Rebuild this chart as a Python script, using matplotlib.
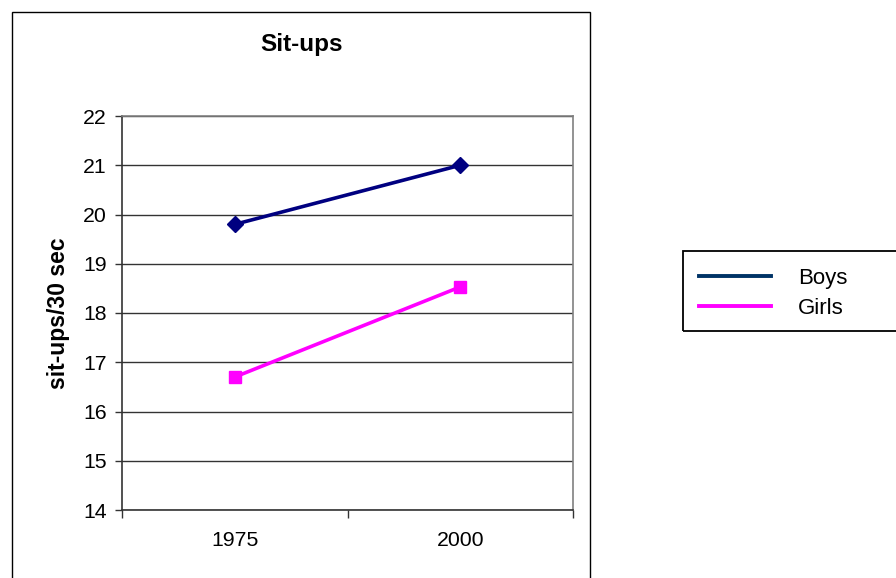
import matplotlib
matplotlib.use("Agg")
import matplotlib.pyplot as plt
from matplotlib.patches import Rectangle
from matplotlib.lines import Line2D

plt.rcParams['font.family'] = ['Liberation Sans', 'DejaVu Sans']

years = ["1975", "2000"]
boys = [19.8, 21.0]
girls = [16.7, 18.53]
yticks = [14, 15, 16, 17, 18, 19, 20, 21, 22]

W, H = 896, 578
fig = plt.figure(figsize=(W / 100, H / 100), dpi=100)

# outer chart frame
fig.add_artist(Rectangle((12 / W, -0.02), (590 - 12) / W, 1 - 12 / H + 0.02,
                         transform=fig.transFigure, fill=False,
                         edgecolor='black', linewidth=1.0))

ax = fig.add_axes([122 / W, 1 - 510 / H, (573 - 122) / W, (510 - 116) / H])

xpos = [i + 0.5 for i in range(len(years))]
ax.plot(xpos, boys, color='#000080', linewidth=2.6, marker='D', markersize=8,
        markeredgecolor='#000080', markerfacecolor='#000080', zorder=3)
ax.plot(xpos, girls, color='#FF00FF', linewidth=2.6, marker='s', markersize=8.5,
        markeredgecolor='#FF00FF', markerfacecolor='#FF00FF', zorder=3)

ax.set_xlim(0, len(years))
ax.set_ylim(min(yticks), max(yticks))
ax.set_yticks(yticks)
ax.set_yticklabels([str(v) for v in yticks])
ax.set_xticks(range(len(years) + 1))
ax.set_xticklabels([])
ax.set_xticks(xpos, minor=True)
ax.set_xticklabels(years, minor=True)
ax.tick_params(axis='x', which='minor', length=0, pad=15, labelsize=15.3)
ax.tick_params(axis='x', which='major', length=6, direction='out', width=1, color='#333333')
ax.tick_params(axis='y', length=5, direction='out', width=1, color='#333333', pad=6, labelsize=15.3)

ax.yaxis.grid(True, color='#333333', linewidth=1.0)
ax.set_axisbelow(True)
for s in ['top', 'right']:
    ax.spines[s].set_color('#808080')
    ax.spines[s].set_linewidth(1.2)
for s in ['left', 'bottom']:
    ax.spines[s].set_color('#333333')
    ax.spines[s].set_linewidth(1.2)

fig.text(302 / W, 1 - 44 / H, "Sit-ups", ha='center', va='center',
         fontsize=17.5, fontweight='bold')
fig.text(58 / W, 1 - 313 / H, "sit-ups/30 sec", ha='center', va='center',
         rotation=90, fontsize=16.5, fontweight='bold')

# legend frame
fig.add_artist(Rectangle((683 / W, 1 - 331 / H), (905 - 683) / W, 80 / H,
                         transform=fig.transFigure, fill=False,
                         edgecolor='black', linewidth=1.3))
handles = [Line2D([], [], color='#003366', linewidth=2.8),
           Line2D([], [], color='#FF00FF', linewidth=2.8)]
leg = fig.legend(handles, ["Boys", "Girls"], loc='upper left',
                 bbox_to_anchor=(699 / W, 1 - 268 / H),
                 bbox_transform=fig.transFigure,
                 fontsize=16, frameon=False, handlelength=3.25,
                 handletextpad=1.2, labelspacing=0.4, borderpad=0,
                 borderaxespad=0)

fig.savefig("out.png", dpi=100, facecolor='white')
